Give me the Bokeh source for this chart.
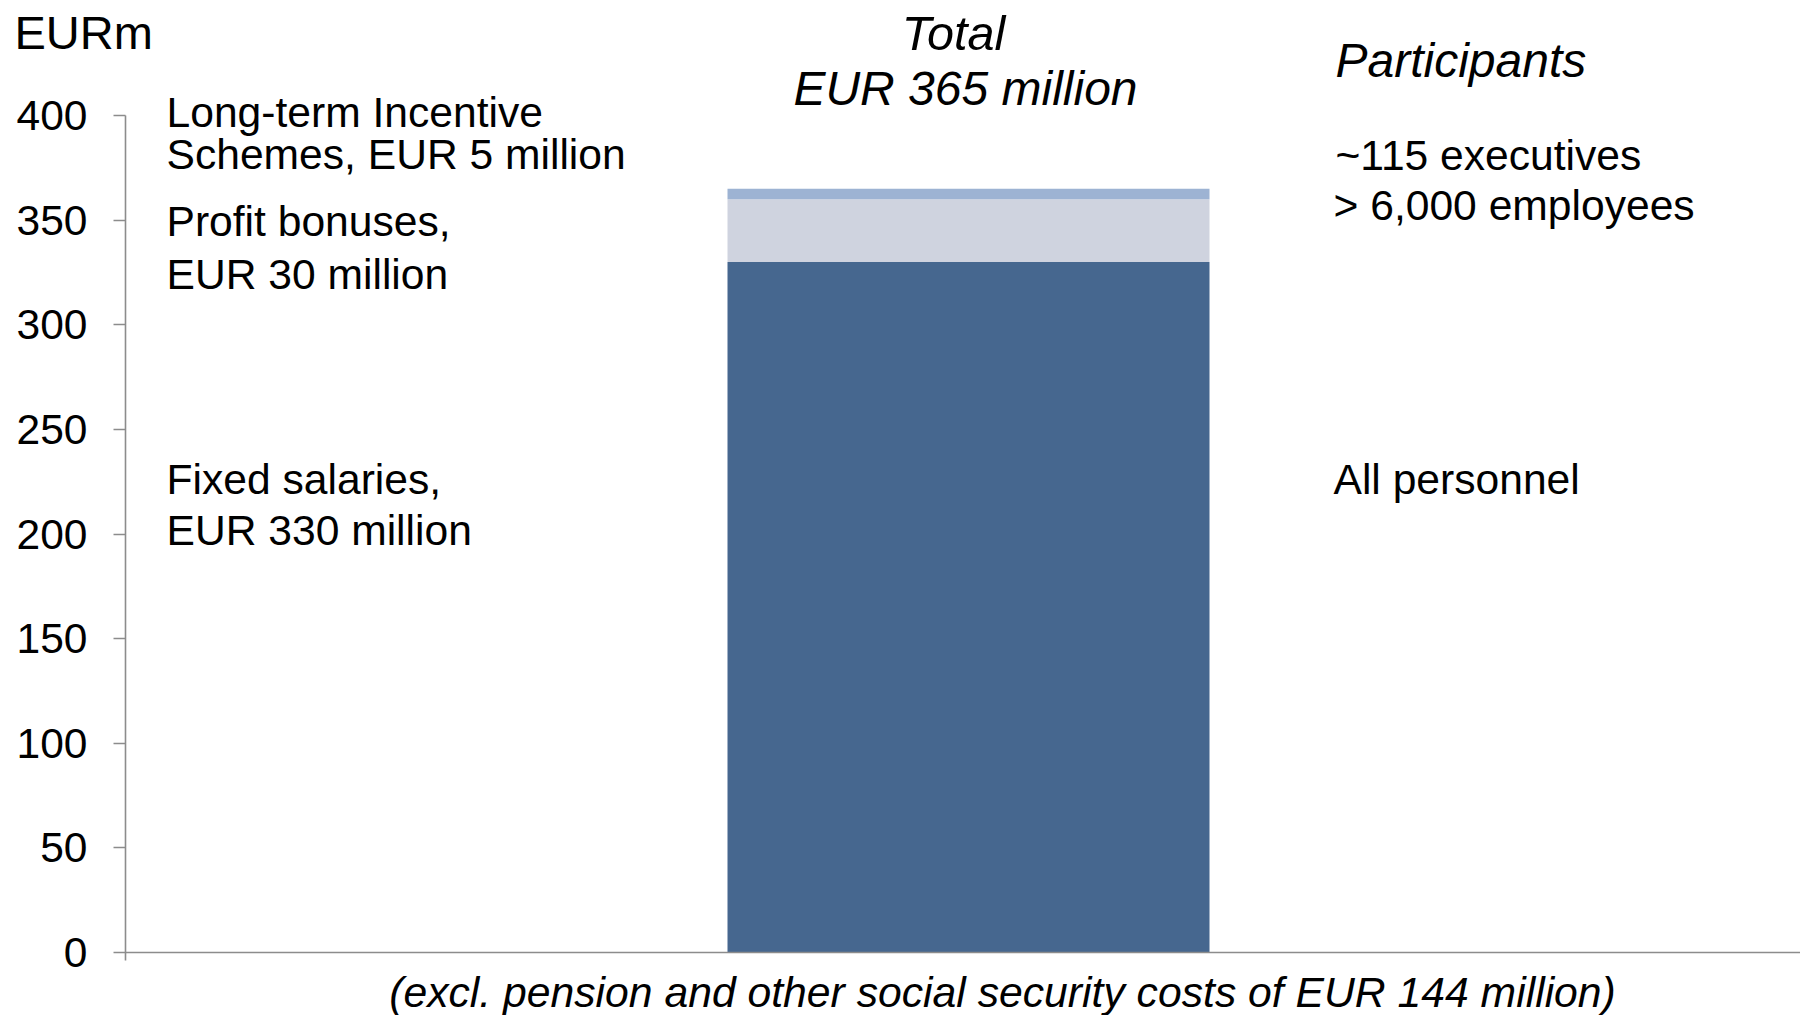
from bokeh.plotting import figure
from bokeh.models import ColumnDataSource, Range1d, FixedTicker, Label
from bokeh.embed import file_html
from bokeh.resources import INLINE

# ---- data ----
categories = ["Total"]
cat_pos = [1]
fixed_salaries = [330]
profit_bonuses = [30]
lti_schemes = [5]
y_ticks = [0, 50, 100, 150, 200, 250, 300, 350, 400]

colors = ["#46678F", "#CFD3DF", "#9DB3D3"]
FONT = "Liberation Sans"
AXIS_GRAY = "#8c8c8c"

W, H = 1800, 1015
PX_X = 482.0          # pixels per x unit
PX_Y = 837.0 / 400.0  # pixels per y unit
x_start = 1 - 968 / PX_X
x_end = x_start + W / PX_X
y_end = 400 + 115 / PX_Y
y_start = -(H - 952) / PX_Y
y_axis_x = x_start + 125 / PX_X

p = figure(width=W, height=H, output_backend="svg", toolbar_location=None,
           x_range=Range1d(x_start, x_end), y_range=Range1d(y_start, y_end),
           min_border_left=0, min_border_right=0,
           min_border_top=0, min_border_bottom=0)
p.outline_line_color = None
p.grid.grid_line_color = None
p.background_fill_color = "white"
p.border_fill_color = "white"

src = ColumnDataSource(dict(x=cat_pos, fixed=fixed_salaries,
                            profit=profit_bonuses, lti=lti_schemes))
p.vbar_stack(["fixed", "profit", "lti"], x="x", width=1.0, source=src,
             color=colors, line_color=None)

# y axis drawn at a fixed location inside the canvas
ax = p.yaxis[0]
ax.fixed_location = y_axis_x
ax.ticker = FixedTicker(ticks=y_ticks)
ax.bounds = (-8 / PX_Y, 400)
ax.axis_line_color = AXIS_GRAY
ax.axis_line_width = 1.6
ax.major_tick_line_color = AXIS_GRAY
ax.major_tick_line_width = 1.6
ax.major_tick_in = 0
ax.major_tick_out = 12
ax.minor_tick_line_color = None
ax.major_label_standoff = 26
ax.major_label_text_font = FONT
ax.major_label_text_font_size = "42.5px"
ax.major_label_text_color = "black"

# x axis line along y = 0
bx = p.xaxis[0]
bx.fixed_location = 0
bx.bounds = (y_axis_x, x_end)
bx.ticker = FixedTicker(ticks=[])
bx.axis_line_color = AXIS_GRAY
bx.axis_line_width = 1.6
bx.major_tick_line_color = None
bx.minor_tick_line_color = None


def X(px):
    return x_start + px / PX_X


def Y(py):
    return y_end - py / PX_Y


def lab(text, px, py, size="42.6px", style="normal", align="left"):
    p.add_layout(Label(x=X(px), y=Y(py), text=text, text_font=FONT,
                       text_font_size=size, text_font_style=style,
                       text_align=align, text_baseline="middle",
                       text_color="black"))


lab("EURm", 14, 32, size="47px")
lab("Total", 953, 32, size="48.5px", style="italic", align="center")
lab("EUR 365 million", 965, 88, size="48px", style="italic", align="center")
lab("Participants", 1335, 60, size="48px", style="italic")
lab("Long-term Incentive", 166, 111)
lab("Schemes, EUR 5 million", 166, 153)
lab("Profit bonuses,", 166, 220)
lab("EUR 30 million", 166, 273)
lab("Fixed salaries,", 166, 478)
lab("EUR 330 million", 166, 529)
lab("~115 executives", 1335, 154)
lab("> 6,000 employees", 1333, 204)
lab("All personnel", 1333, 478)
lab("(excl. pension and other social security costs of EUR 144 million)",
    1002, 991, size="42.7px", style="italic", align="center")

open("out.html", "w").write(file_html(p, INLINE))
